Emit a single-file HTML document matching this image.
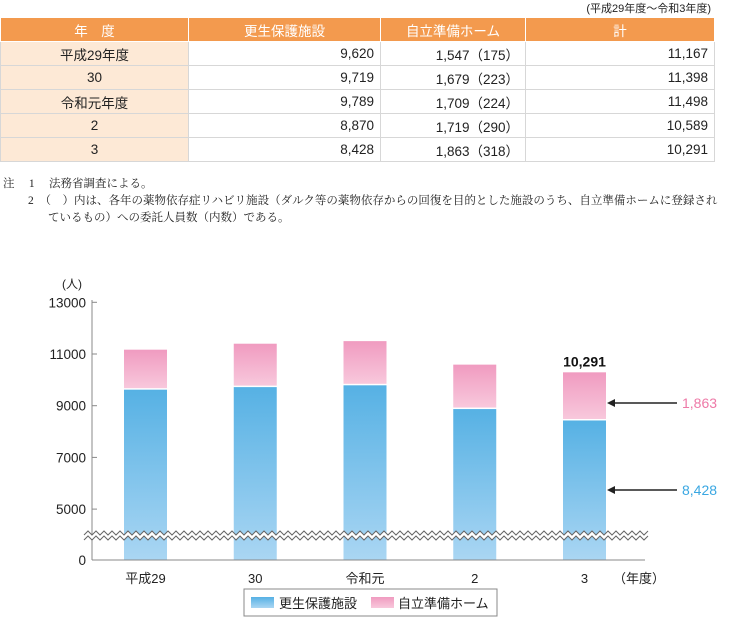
<!DOCTYPE html>
<html><head><meta charset="utf-8"><style>
body{margin:0;width:751px;height:620px;background:#fff;font-family:"Liberation Sans","Noto Sans CJK JP",sans-serif;color:#222;position:relative;overflow:hidden}
.cap{position:absolute;right:40px;top:0;font-size:11px}
table{position:absolute;left:0;top:17px;border-collapse:collapse;font-size:13.5px}
td,th{height:23px;padding:0 6px;border:1px solid #d7d7d7}
th{background:#f39a4e;color:#fff;font-weight:normal;border-color:#fff;height:23px}
td.y{background:#fde9d6;text-align:center}
td.n{text-align:right}
.note{position:absolute;left:3px;font-family:"Liberation Serif","Noto Serif CJK SC",serif;font-size:11.5px;white-space:nowrap}
</style></head><body>
<div class="cap">(平成29年度～令和3年度)</div>
<table>
<tr><th style="width:175px">年　度</th><th style="width:179px">更生保護施設</th><th style="width:132px">自立準備ホーム</th><th style="width:176px">計</th></tr>
<tr><td class="y">平成29年度</td><td class="n">9,620</td><td class="n">1,547（175）</td><td class="n">11,167</td></tr>
<tr><td class="y">30</td><td class="n">9,719</td><td class="n">1,679（223）</td><td class="n">11,398</td></tr>
<tr><td class="y">令和元年度</td><td class="n">9,789</td><td class="n">1,709（224）</td><td class="n">11,498</td></tr>
<tr><td class="y">2</td><td class="n">8,870</td><td class="n">1,719（290）</td><td class="n">10,589</td></tr>
<tr><td class="y">3</td><td class="n">8,428</td><td class="n">1,863（318）</td><td class="n">10,291</td></tr>
</table>
<div class="note" style="top:175px">注　 1　 法務省調査による。</div>
<div class="note" style="top:192px;left:28px">2　（　）内は、各年の薬物依存症リハビリ施設（ダルク等の薬物依存からの回復を目的とした施設のうち、自立準備ホームに登録され</div>
<div class="note" style="top:209px;left:48px">ているもの）への委託人員数（内数）である。</div>
<svg id="chart" width="751" height="620" style="position:absolute;left:0;top:0">
<defs>
<linearGradient id="gb" x1="0" y1="0" x2="0" y2="1"><stop offset="0" stop-color="#56b1e4"/><stop offset="1" stop-color="#aad6f3"/></linearGradient>
<linearGradient id="gp" x1="0" y1="0" x2="0" y2="1"><stop offset="0" stop-color="#f09bc0"/><stop offset="1" stop-color="#f8c8dc"/></linearGradient>
</defs>
</svg>
<script>
const categories=["平成29","30","令和元","2","3"];
const shisetsu=[9620,9719,9789,8870,8428];
const jiritsu=[1547,1679,1709,1719,1863];
const ticks=[0,5000,7000,9000,11000,13000];
const NS="http://www.w3.org/2000/svg";
const svg=document.getElementById('chart');
function yS(v){return v>=5000?405.7-(v-9000)*0.02585:560-(v/5000)*(560-509.1);}
function xC(i){return 145.5+i*109.75;}
function mk(t,a,txt){const e=document.createElementNS(NS,t);for(const k in a)e.setAttribute(k,a[k]);if(txt!==undefined)e.textContent=txt;svg.appendChild(e);return e;}
const bw=43;
categories.forEach((c,i)=>{
 const x=xC(i)-bw/2;
 const yb=yS(shisetsu[i]);
 const b=mk('rect',{x:x,y:yb,width:bw,height:560-yb,fill:'url(#gb)'});
 
 
 const yt=yS(shisetsu[i]+jiritsu[i]);
 const p=mk('rect',{x:x,y:yt,width:bw,height:yb-yt-1.5,fill:'url(#gp)'});
 
 
 const l=mk('text',{x:xC(i),y:583,'font-size':13,'text-anchor':'middle',fill:'#222'},c);
 
 
});
mk('line',{x1:92,y1:300,x2:92,y2:560,stroke:'#888','stroke-width':1});
mk('line',{x1:92,y1:560,x2:645,y2:560,stroke:'#888','stroke-width':1});
ticks.forEach(t=>{
 const y=yS(t);
 mk('line',{x1:92,y1:y,x2:97,y2:y,stroke:'#888'});
 const tl=mk('text',{x:86,y:y+5,'font-size':13.5,'text-anchor':'end',fill:'#222'},String(t));
 
 
});
const u=mk('text',{x:62,y:288,'font-size':12,fill:'#222'},'(人)');


const fy=mk('text',{x:613,y:583,'font-size':13,fill:'#222'},'（年度）');


// wavy break
let d1='',d2='';
for(let x=84,k=0;x<=648;x+=4,k++){const o=k%2?-2:2;d1+=(k?'L':'M')+x+' '+(533+o);d2+=(k?'L':'M')+x+' '+(538+o);}
mk('path',{d:`${d1} L648 538 ${d2.replace('M','L').split('L').reverse().filter(s=>s).map(s=>'L'+s).join(' ')} Z`,fill:'#fff',stroke:'none'});
mk('path',{d:d1,fill:'none',stroke:'#666','stroke-width':1});
mk('path',{d:d2,fill:'none',stroke:'#666','stroke-width':1});
const last=categories.length-1;
const tot=mk('text',{x:xC(last),y:yS(shisetsu[last]+jiritsu[last])-6,'font-size':14,'font-weight':'bold','text-anchor':'middle',fill:'#111'},(shisetsu[last]+jiritsu[last]).toLocaleString('en-US'));


function arrow(y){mk('line',{x1:612,y1:y,x2:677,y2:y,stroke:'#222','stroke-width':1.5});mk('path',{d:`M607 ${y} L615 ${y-4} L615 ${y+4} Z`,fill:'#222'});}
const ay1=yS(shisetsu[last]+jiritsu[last]*0.4), ay2=yS(2050);
arrow(403);arrow(490);
const a1=mk('text',{x:682,y:408,'font-size':14,fill:'#ee79a7'},jiritsu[last].toLocaleString('en-US'));


const a2=mk('text',{x:682,y:495,'font-size':14,fill:'#3aa7e2'},shisetsu[last].toLocaleString('en-US'));


// legend
const lg=mk('rect',{x:244,y:589,width:253,height:27,fill:'#fff',stroke:'#888'});


mk('rect',{x:251,y:597,width:23,height:11,fill:'url(#gb)'});
const l1=mk('text',{x:279,y:608,'font-size':13,fill:'#222'},'更生保護施設');


mk('rect',{x:371,y:597,width:23,height:11,fill:'url(#gp)'});
const l2=mk('text',{x:398,y:608,'font-size':13,fill:'#222'},'自立準備ホーム');


</script>
</body></html>
